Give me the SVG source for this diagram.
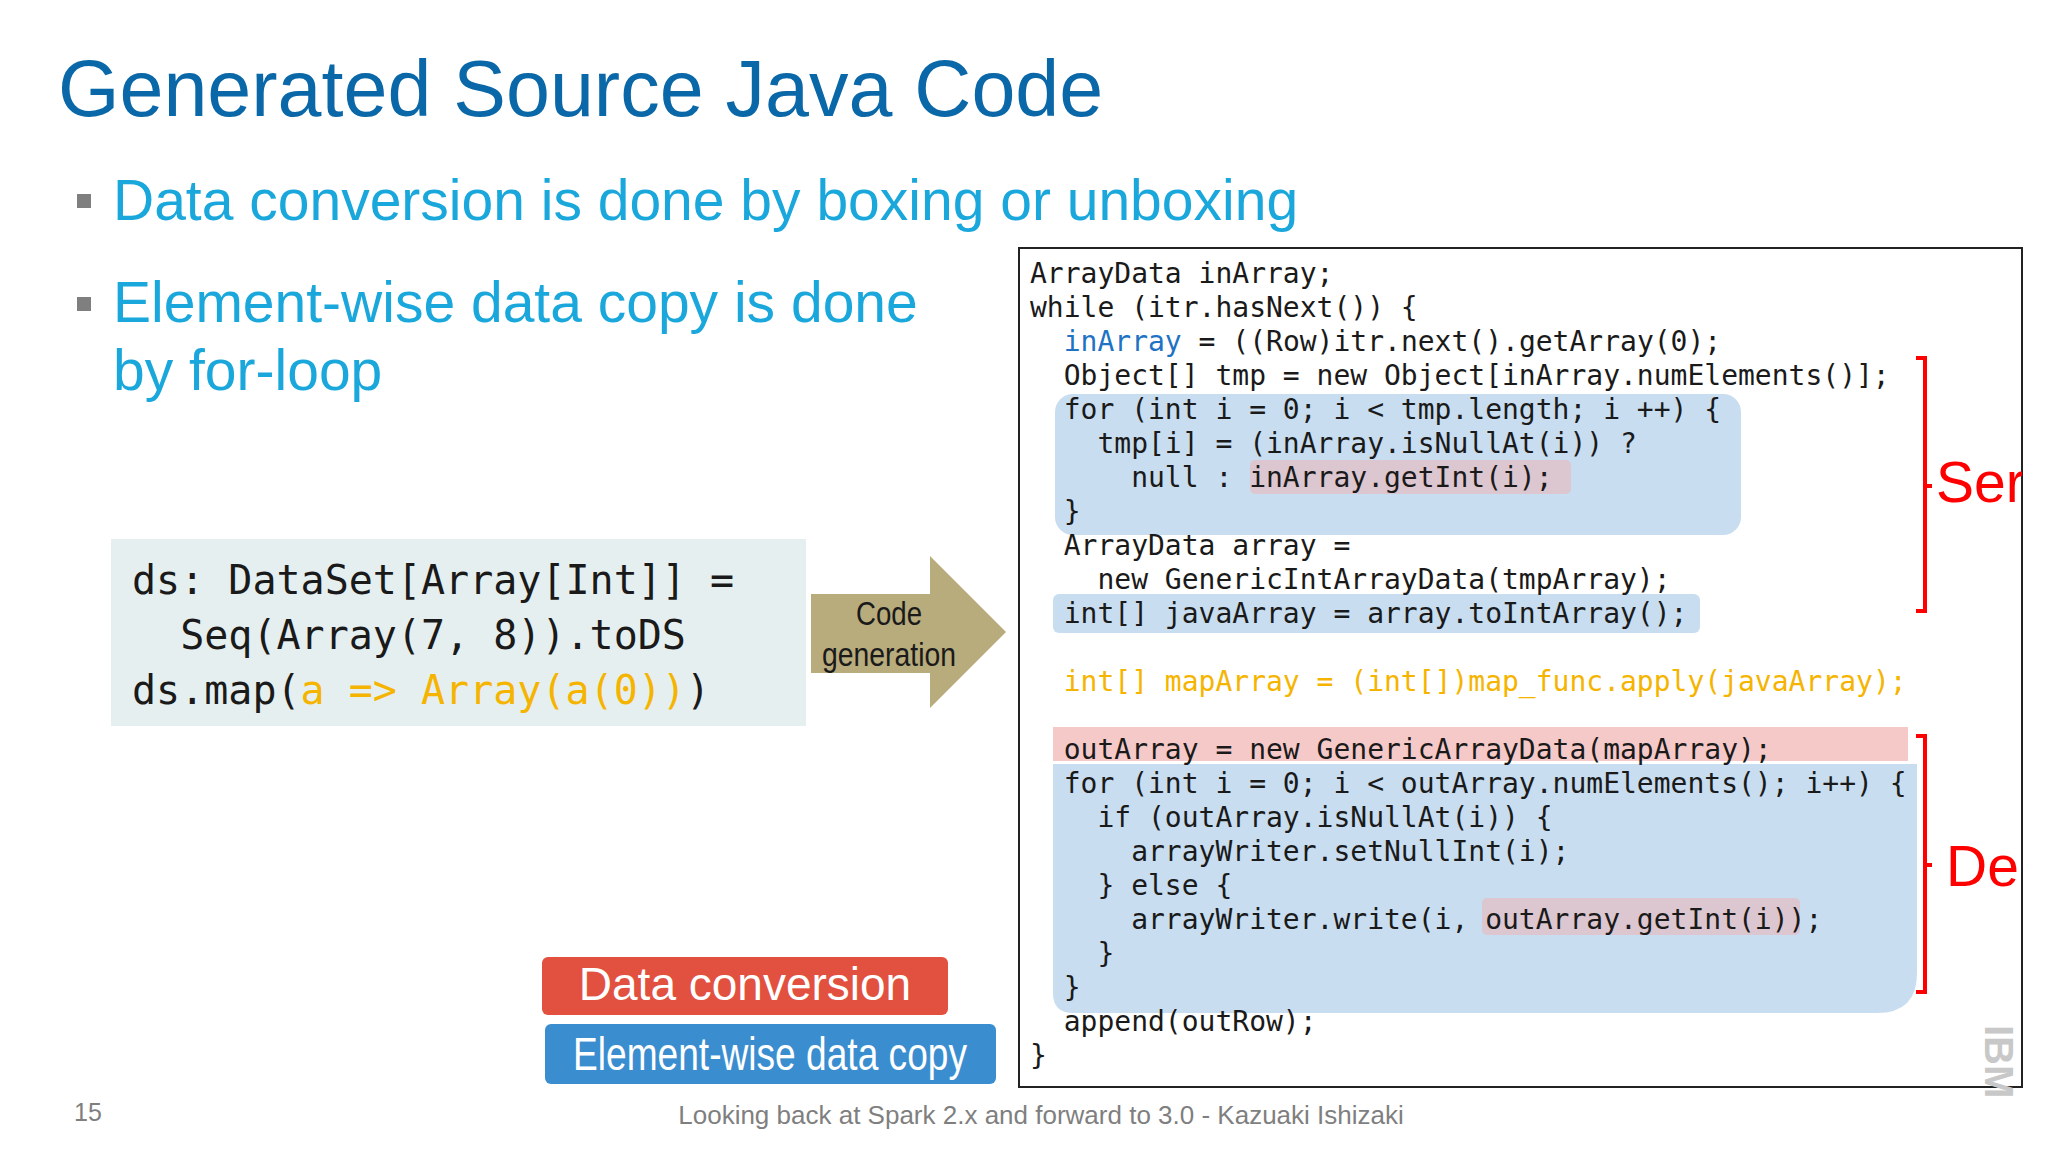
<svg xmlns="http://www.w3.org/2000/svg" width="2048" height="1152" viewBox="0 0 2048 1152">
<style>
.t{font-family:"Liberation Sans",Arial,sans-serif}
.b{font-family:"Liberation Sans",Arial,sans-serif;font-size:57px;fill:#1aa7dc}
.m{font-family:"DejaVu Sans Mono","Liberation Mono",monospace;font-size:28px;fill:#1a1a1a;white-space:pre}
.m2{font-family:"DejaVu Sans Mono","Liberation Mono",monospace;font-size:40px;fill:#1a1a1a;white-space:pre}
.y{fill:#f5b400}
.hb{fill:#c8ddf0}
.hp{fill:#dcc6d0}
.red{fill:none;stroke:#ff0000;stroke-width:4}
</style>
<rect width="2048" height="1152" fill="#fff"/>
<text class="t" x="58" y="116" font-size="79" fill="#0a67a8">Generated Source Java Code</text>
<g id="bullets">
<rect x="77" y="194" width="14" height="14" fill="#7f7f7f"/>
<text class="b" x="113" y="220">Data conversion is done by boxing or unboxing</text>
<rect x="77" y="297" width="14" height="14" fill="#7f7f7f"/>
<text class="b" x="113" y="322">Element-wise data copy is done</text>
<text class="b" x="113" y="390">by for-loop</text>
</g>
<g id="scala">
<rect x="111" y="539" width="695" height="187" fill="#e6eff0"/>
<text class="m2" x="132" y="594">ds: DataSet[Array[Int]] =</text>
<text class="m2" x="132" y="649">  Seq(Array(7, 8)).toDS</text>
<text class="m2" x="132" y="704">ds.map(<tspan class="y">a =&gt; Array(a(0))</tspan>)</text>
</g>
<g id="arrow">
<polygon points="811,594 930,594 930,556 1006,632 930,708 930,673 811,673" fill="#b8ab7c"/>
<text class="t" x="889" y="625" font-size="33" text-anchor="middle" fill="#1a1a1a" textLength="66" lengthAdjust="spacingAndGlyphs">Code</text>
<text class="t" x="889" y="666" font-size="33" text-anchor="middle" fill="#1a1a1a" textLength="134" lengthAdjust="spacingAndGlyphs">generation</text>
</g>
<g id="javabox">
<rect x="1019" y="248" width="1003" height="839" fill="#fff" stroke="#222" stroke-width="2"/>
<rect class="hb" x="1055" y="394" width="686" height="141" rx="18"/>
<rect class="hb" x="1053" y="594" width="647" height="39" rx="6"/>
<rect class="hp" x="1250" y="460" width="321" height="34" rx="5"/>
<rect x="1053" y="727" width="855" height="34" fill="#f6c9c9"/>
<path class="hb" d="M1053,764 H1917 V973 Q1917,1013 1877,1013 H1073 Q1053,1013 1053,993 Z"/>
<rect class="hp" x="1482" y="898" width="318" height="37" rx="5"/>
<text class="m" x="1030" y="283">ArrayData inArray;</text>
<text class="m" x="1030" y="317">while (itr.hasNext()) {</text>
<text class="m" x="1030" y="351">  <tspan fill="#1f73c4">inArray</tspan> = ((Row)itr.next().getArray(0);</text>
<text class="m" x="1030" y="385">  Object[] tmp = new Object[inArray.numElements()];</text>
<text class="m" x="1030" y="419">  for (int i = 0; i &lt; tmp.length; i ++) {</text>
<text class="m" x="1030" y="453">    tmp[i] = (inArray.isNullAt(i)) ?</text>
<text class="m" x="1030" y="487">      null : inArray.getInt(i);</text>
<text class="m" x="1030" y="521">  }</text>
<text class="m" x="1030" y="555">  ArrayData array =</text>
<text class="m" x="1030" y="589">    new GenericIntArrayData(tmpArray);</text>
<text class="m" x="1030" y="623">  int[] javaArray = array.toIntArray();</text>
<text class="m" x="1030" y="691">  <tspan class="y">int[] mapArray = (int[])map_func.apply(javaArray);</tspan></text>
<text class="m" x="1030" y="759">  outArray = new GenericArrayData(mapArray);</text>
<text class="m" x="1030" y="793">  for (int i = 0; i &lt; outArray.numElements(); i++) {</text>
<text class="m" x="1030" y="827">    if (outArray.isNullAt(i)) {</text>
<text class="m" x="1030" y="861">      arrayWriter.setNullInt(i);</text>
<text class="m" x="1030" y="895">    } else {</text>
<text class="m" x="1030" y="929">      arrayWriter.write(i, outArray.getInt(i));</text>
<text class="m" x="1030" y="963">    }</text>
<text class="m" x="1030" y="997">  }</text>
<text class="m" x="1030" y="1031">  append(outRow);</text>
<text class="m" x="1030" y="1065">}</text>
</g>
<g id="brackets">
<path class="red" d="M1916,358 H1925 V611 H1916 M1925,486 H1932"/>
<path class="red" d="M1916,736 H1925 V992 H1916 M1925,865 H1932"/>
<svg x="1930" y="440" width="92" height="480" overflow="hidden">
<text class="t" x="6" y="62" font-size="57" fill="#ff0000">Ser</text>
<text class="t" x="16" y="446" font-size="57" fill="#ff0000">De</text>
</svg>
</g>
<g id="legend1">
<rect x="542" y="957" width="406" height="58" rx="6" fill="#e2503f"/>
<text class="t" x="745" y="1000" font-size="46" text-anchor="middle" fill="#fff">Data conversion</text>
</g>
<g id="legend2">
<rect x="545" y="1024" width="451" height="60" rx="6" fill="#3a8ed0"/>
<text class="t" x="770" y="1070" font-size="46" text-anchor="middle" fill="#fff" textLength="394" lengthAdjust="spacingAndGlyphs">Element-wise data copy</text>
</g>
<text class="t" x="74" y="1121" font-size="25" fill="#7f7f7f">15</text>
<text class="t" x="1041" y="1124" font-size="26" text-anchor="middle" fill="#7f7f7f">Looking back at Spark 2.x and forward to 3.0 - Kazuaki Ishizaki</text>
<text class="t" transform="translate(1985,1025) rotate(90)" font-size="40" font-weight="bold" fill="#c8c8c8">IBM</text>
</svg>
